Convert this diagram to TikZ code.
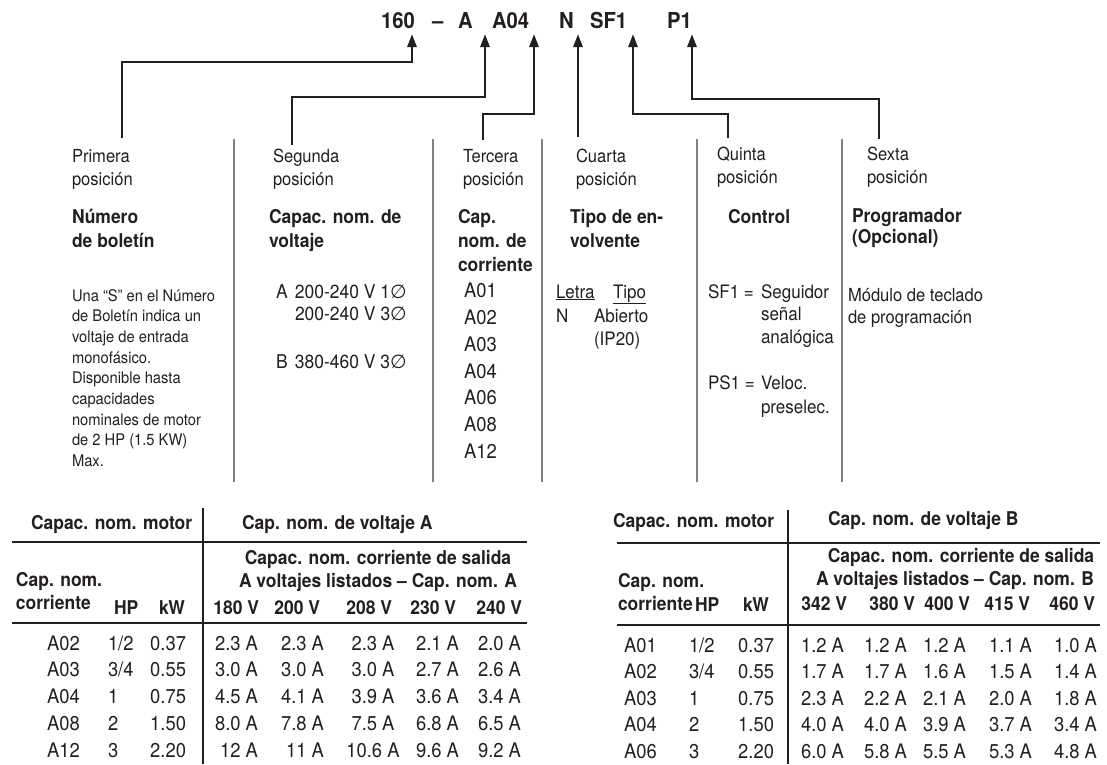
\documentclass[tikz,border=0pt]{standalone}
\usepackage{fontspec}
\setmainfont[FakeStretch=0.92]{TeX Gyre Heros}
\newfontfamily\phasefont{DejaVu Sans}
\usetikzlibrary{arrows.meta}
\definecolor{catInk}{HTML}{231F20}
\definecolor{catGray}{HTML}{808080}
\tikzset{
  cat arrow/.style={draw=catInk, line width=2.6pt, -{Triangle[length=13pt,width=9pt]}},
  cat sep/.style={draw=catGray, line width=1.3pt},
  cat rule/.style={draw=catInk, line width=2pt},
  cat text/.style={inner sep=0pt, outer sep=0pt, text=catInk, anchor=base west, align=left},
}
\newcommand{\fsz}[2]{\fontsize{#1}{#2}\selectfont}
\newcommand{\phase}{{\phasefont ∅}}

\begin{document}
\begin{tikzpicture}[x=1pt, y=-1pt,
  codetext/.style={cat text, font=\fsz{22}{26}\bfseries},
  poslabel/.style={cat text, font=\fsz{18}{23}},
  headtext/.style={cat text, font=\fsz{19}{24}\bfseries},
  bodytext/.style={cat text, font=\fsz{16}{20.7}},
  itemtext/.style={cat text, font=\fsz{18.5}{22.5}},
  curlist/.style={cat text, font=\fsz{20}{26.67}},
  thead/.style={cat text, font=\fsz{19}{23}\bfseries},
  tval/.style={cat text, font=\fsz{20}{26}},
]
  \useasboundingbox (0,0) rectangle (1107,764);

  % catalogue number
  \node[codetext] (c160) at (381,28) {160};
  \node[codetext] (cdash) at (432,28) {–};
  \node[codetext] (cA) at (458,28) {A};
  \node[codetext] (cA04) at (492,28) {A04};
  \node[codetext] (cN) at (559,28) {N};
  \node[codetext] (cSF1) at (590,28) {SF1};
  \node[codetext] (cP1) at (667,28) {P1};

  \coordinate (t160) at (412,34);
  \coordinate (tA) at (485,34);
  \coordinate (tA04) at (534,34);
  \coordinate (tN) at (578,34);
  \coordinate (tSF1) at (633,34);
  \coordinate (tP1) at (692,34);

  \coordinate (b1) at (122,138);
  \coordinate (b2) at (292,145);
  \coordinate (b3) at (483,140);
  \coordinate (b4) at (578,137);
  \coordinate (b5) at (728,138);
  \coordinate (b6) at (879,139);

  \draw[cat arrow] (b1) -- ++(0,-76) -| (t160);
  \draw[cat arrow] (b2) -- ++(0,-48) -| (tA);
  \draw[cat arrow] (b3) -- ++(0,-26) -| (tA04);
  \draw[cat arrow] (b4) -- (tN);
  \draw[cat arrow] (b5) -- ++(0,-24) -| (tSF1);
  \draw[cat arrow] (b6) -- ++(0,-40) -| (tP1);

  \foreach \sx in {234,433,542,697,842}
    \draw[cat sep] (\sx,139) -- (\sx,482);

  % positions (multi-line nodes sit on their last baseline)
  \node[poslabel] (pos1) at (72,185) {Primera\\posición};
  \node[poslabel] (pos2) at (273,185) {Segunda\\posición};
  \node[poslabel] (pos3) at (463,185) {Tercera\\posición};
  \node[poslabel] (pos4) at (576,185) {Cuarta\\posición};
  \node[poslabel] (pos5) at (717,183) {Quinta\\posición};
  \node[poslabel] (pos6) at (867,183) {Sexta\\posición};

  \node[headtext] (h1) at (72,247) {Número\\de boletín};
  \node[headtext] (h2) at (269,247) {Capac. nom. de\\voltaje};
  \node[headtext] (h3) at (458,271) {Cap.\\nom. de\\corriente};
  \node[headtext] (h4) at (570,247) {Tipo de en-\\volvente};
  \node[headtext] (h5) at (728,223) {Control};
  \node[headtext, font=\fsz{19}{21.5}\bfseries] (h6) at (852,243.5) {Programador\\(Opcional)};

  \node[bodytext] (note1) at (72,466.6) {Una “S” en el Número\\de Boletín indica un\\voltaje de entrada\\monofásico.\\Disponible hasta\\capacidades\\nominales de motor\\de 2 HP (1.5 KW)\\Max.};

  \node[itemtext, font=\fsz{19}{22}] (volt) at (276,368)
    {\makebox[19pt][l]{A}200-240 V 1\phase\\\hspace*{19pt}200-240 V 3\phase\\[26pt]\makebox[19pt][l]{B}380-460 V 3\phase};

  \node[curlist] (cur) at (464,458) {A01\\A02\\A03\\A04\\A06\\A08\\A12};

  \node[itemtext] (letra) at (556,298) {\underline{Letra}};
  \node[itemtext] (tipo) at (613,298) {\underline{Tipo}};
  \node[itemtext] (encN) at (556,322) {N};
  \node[itemtext, font=\fsz{18.5}{23}] (encAb) at (594,345) {Abierto\\(IP20)};

  \node[itemtext] (sf1) at (708,298) {SF1 =};
  \node[itemtext] (sf1t) at (761,343) {Seguidor\\señal\\analógica};
  \node[itemtext] (ps1) at (708,389) {PS1 =};
  \node[itemtext, font=\fsz{18.5}{24}] (ps1t) at (761,413) {Veloc.\\preselec.};

  \node[itemtext, font=\fsz{18}{22}] (prog) at (848,323) {Módulo de teclado\\de programación};

  % table A
  \node[thead] (mA) at (31,529) {Capac. nom. motor};
  \node[thead] (vA) at (242,529) {Cap. nom. de voltaje A};
  \node[thead, anchor=base, align=center] (oA) at (378,587) {Capac. nom. corriente de salida\\A voltajes listados – Cap. nom. A};
  \node[thead] (cnA) at (16,609) {Cap. nom.\\corriente};
  \node[thead] (hpA) at (114,614) {HP};
  \node[thead] (kwA) at (159,614) {kW};
  \foreach \vx/\vt [count=\n] in {259/180 V,320/200 V,392/208 V,456/230 V,522/240 V}
    \node[thead, anchor=base east] (uA\n) at (\vx,614) {\vt};
  \draw[cat rule] (12,542) -- (527,542);
  \draw[cat rule] (12,623) -- (527,623);
  \draw[cat rule] (203,508) -- (203,764);
  \foreach \cur/\hp/\kw/\va/\vb/\vc/\vd/\ve [count=\n] in {
      A02/{1/2}/0.37/2.3 A/2.3 A/2.3 A/2.1 A/2.0 A,
      A03/{3/4}/0.55/3.0 A/3.0 A/3.0 A/2.7 A/2.6 A,
      A04/1/0.75/4.5 A/4.1 A/3.9 A/3.6 A/3.4 A,
      A08/2/1.50/8.0 A/7.8 A/7.5 A/6.8 A/6.5 A,
      A12/3/2.20/12 A/11 A/10.6 A/9.6 A/9.2 A}{
    \pgfmathsetmacro\ry{650+(\n-1)*26.75}
    \node[tval] (ar\n) at (47,\ry) {\cur};
    \node[tval] (ah\n) at (108,\ry) {\hp};
    \node[tval, anchor=base east] (ak\n) at (186,\ry) {\kw};
    \node[tval, anchor=base east] (a1\n) at (258,\ry) {\va};
    \node[tval, anchor=base east] (a2\n) at (324,\ry) {\vb};
    \node[tval, anchor=base] (a3\n) at (373,\ry) {\vc};
    \node[tval, anchor=base east] (a4\n) at (459,\ry) {\vd};
    \node[tval, anchor=base east] (a5\n) at (521,\ry) {\ve};
  }

  % table B
  \node[thead] (mB) at (613,527) {Capac. nom. motor};
  \node[thead] (vB) at (828,525) {Cap. nom. de voltaje B};
  \node[thead, anchor=base, align=center] (oB) at (955,585) {\hspace*{12pt}Capac. nom. corriente de salida\\A voltajes listados – Cap. nom. B};
  \node[thead] (cnB) at (618,610) {Cap. nom.\\corriente};
  \node[thead] (hpB) at (695,611) {HP};
  \node[thead] (kwB) at (743,611) {kW};
  \foreach \vx/\vt [count=\n] in {847/342 V,915/380 V,970/400 V,1030/415 V,1095/460 V}
    \node[thead, anchor=base east] (uB\n) at (\vx,610) {\vt};
  \draw[cat rule] (617,543) -- (1100,543);
  \draw[cat rule] (617,625) -- (1100,625);
  \draw[cat rule] (788,510) -- (788,764);
  \foreach \cur/\hp/\kw/\va/\vb/\vc/\vd/\ve [count=\n] in {
      A01/{1/2}/0.37/1.2 A/1.2 A/1.2 A/1.1 A/1.0 A,
      A02/{3/4}/0.55/1.7 A/1.7 A/1.6 A/1.5 A/1.4 A,
      A03/1/0.75/2.3 A/2.2 A/2.1 A/2.0 A/1.8 A,
      A04/2/1.50/4.0 A/4.0 A/3.9 A/3.7 A/3.4 A,
      A06/3/2.20/6.0 A/5.8 A/5.5 A/5.3 A/4.8 A}{
    \pgfmathsetmacro\ry{652+(\n-1)*26.5}
    \node[tval] (br\n) at (624,\ry) {\cur};
    \node[tval] (bh\n) at (689,\ry) {\hp};
    \node[tval, anchor=base east] (bk\n) at (774,\ry) {\kw};
    \node[tval, anchor=base east] (b1\n) at (844,\ry) {\va};
    \node[tval, anchor=base east] (b2\n) at (907,\ry) {\vb};
    \node[tval, anchor=base east] (b3\n) at (966,\ry) {\vc};
    \node[tval, anchor=base east] (b4\n) at (1032,\ry) {\vd};
    \node[tval, anchor=base east] (b5\n) at (1097,\ry) {\ve};
  }
\end{tikzpicture}
\end{document}
